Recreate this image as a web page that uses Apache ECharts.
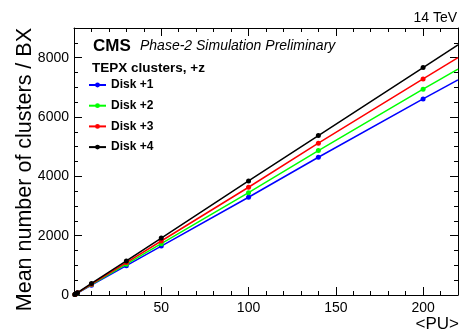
<!DOCTYPE html>
<html><head><meta charset="utf-8">
<script src="https://cdn.jsdelivr.net/npm/echarts@6/dist/echarts.min.js"></script>
<style>html,body{margin:0;padding:0;background:#fff}#c{width:461px;height:333px}</style>
</head><body><div id="c"></div>
<script>
// ---- data ----
const pu     = [0.5, 1, 2, 10, 30, 50, 100, 140, 200];
const disk1  = [17, 33, 66, 330, 990, 1650, 3295, 4644, 6610];
const disk2  = [17, 35, 69, 350, 1040, 1730, 3450, 4867, 6937];
const disk3  = [18, 36, 73, 365, 1095, 1820, 3632, 5116, 7285];
const disk4  = [19, 38, 77, 390, 1150, 1920, 3845, 5373, 7666];
// fitted line values at the right edge of the plot (<PU> = 220)
const fitPU  = 220;
const fitEnd = [7251, 7612, 8003, 8432];
const seriesNames = ['Disk +1', 'Disk +2', 'Disk +3', 'Disk +4'];
const colors = ['#0000ff', '#00ff00', '#ff0000', '#000000'];
const xRange = [0, 220];
const yRange = [0, 9000];

const FONT = '"Liberation Sans", Arial, Helvetica, sans-serif';
const diskVals = [disk1, disk2, disk3, disk4];

const series = [];
diskVals.forEach((vals, k) => {
  series.push({
    type: 'line', name: seriesNames[k], xAxisIndex: 0, yAxisIndex: 0,
    data: pu.map((x, i) => [x, vals[i]]),
    symbol: 'circle', symbolSize: 5, showSymbol: true,
    lineStyle: { width: 1.5, color: colors[k] },
    itemStyle: { color: colors[k] },
    z: 3 + k, animation: false
  });
  series.push({
    type: 'line', name: seriesNames[k] + ' fit', xAxisIndex: 0, yAxisIndex: 0,
    data: [[pu[pu.length - 1], vals[vals.length - 1]], [fitPU, fitEnd[k]]],
    symbol: 'none', lineStyle: { width: 1.5, color: colors[k] },
    z: 3 + k, animation: false, silent: true
  });
});

const lineBlack = { color: '#000', width: 1 };
function xAx(pos, major, labels) {
  return {
    type: 'value', min: xRange[0], max: xRange[1], position: pos,
    interval: major ? 50 : 10,
    axisLine: { show: major, onZero: false, lineStyle: lineBlack },
    axisTick: { show: true, inside: true, length: major ? 8 : 4, lineStyle: lineBlack, interval: 0 },
    axisLabel: labels ? {
      show: true, interval: 0, fontSize: 14, color: '#000', fontFamily: FONT, margin: 6,
      formatter: v => (v === 0 || v === 220) ? '' : String(v)
    } : { show: false },
    splitLine: { show: false }
  };
}
function yAx(pos, major, labels) {
  return {
    type: 'value', min: yRange[0], max: yRange[1], position: pos,
    interval: major ? 2000 : 500,
    axisLine: { show: major, onZero: false, lineStyle: lineBlack },
    axisTick: { show: true, inside: true, length: major ? 8 : 4, lineStyle: lineBlack, interval: 0 },
    axisLabel: labels ? {
      show: true, interval: 0, fontSize: 14, color: '#000', fontFamily: FONT, margin: 5,
      formatter: v => (v === 9000) ? '' : String(v)
    } : { show: false },
    splitLine: { show: false }
  };
}

const chart = echarts.init(document.getElementById('c'), null, { renderer: 'canvas' });
chart.setOption({
  animation: false,
  backgroundColor: '#fff',
  grid: { left: 74, right: 1, top: 28, bottom: 38, containLabel: false },
  xAxis: [xAx('bottom', true, true), xAx('bottom', false, false), xAx('top', true, false), xAx('top', false, false)],
  yAxis: [yAx('left', true, true), yAx('left', false, false), yAx('right', true, false), yAx('right', false, false)],
  legend: {
    orient: 'vertical', left: 88, top: 79, padding: 0, itemWidth: 17, itemHeight: 6, itemGap: 8.7,
    data: seriesNames,
    textStyle: { fontWeight: 'bold', fontSize: 12, color: '#000', fontFamily: FONT },
    selectedMode: false
  },
  graphic: [
    { type: 'text', x: 457, y: 18, style: { text: '14 TeV', font: '14px ' + FONT, fill: '#000', textAlign: 'right', textVerticalAlign: 'middle' } },
    { type: 'text', x: 459, y: 324, style: { text: '<PU>', font: '17px ' + FONT, fill: '#000', textAlign: 'right', textVerticalAlign: 'middle' } },
    { type: 'text', x: 25, y: 28, rotation: Math.PI / 2, style: { text: 'Mean number of clusters / BX', font: '21.5px ' + FONT, fill: '#000', textAlign: 'right', textVerticalAlign: 'middle' } },
    { type: 'text', x: 93, y: 46, style: { text: 'CMS', font: 'bold 17px ' + FONT, fill: '#000', textAlign: 'left', textVerticalAlign: 'middle' } },
    { type: 'text', x: 140, y: 46, style: { text: 'Phase-2 Simulation Preliminary', font: 'italic 14px ' + FONT, fill: '#000', textAlign: 'left', textVerticalAlign: 'middle' } },
    { type: 'text', x: 92, y: 68, style: { text: 'TEPX clusters, +z', font: 'bold 13.5px ' + FONT, fill: '#000', textAlign: 'left', textVerticalAlign: 'middle' } }
  ],
  series: series
});
</script>
</body></html>
